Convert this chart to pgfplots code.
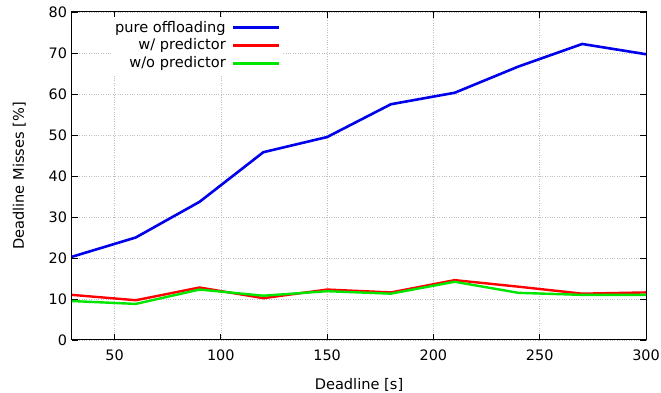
\documentclass[border=0pt]{standalone}
\usepackage{pgfplots}
\pgfplotsset{compat=1.18}
\usepackage{fontspec}
\setmainfont{DejaVu Sans}
\begin{document}
\fontsize{14.6}{17.5}\selectfont
\begin{tikzpicture}
\begin{axis}[
  name=ax,
  scale only axis,
  width=574pt, height=328pt,
  xmin=30, xmax=300, ymin=0, ymax=80,
  xtick={50,100,150,200,250,300},
  ytick={0,10,20,30,40,50,60,70,80},
  tick align=inside,
  major tick length=6pt,
  tick style={black, line width=0.8pt},
  axis line style={line width=1pt},
  grid=major,
  grid style={gray!50, dotted, line width=0.6pt},
  /pgf/number format/assume math mode=true,
  ticklabel style={font=\fontsize{14.4}{17}\selectfont},
  yticklabel style={xshift=0pt},
  xticklabel style={yshift=-5pt},
  label style={font=\fontsize{14.6}{17.5}\selectfont},
  xlabel={Deadline [s]},
  ylabel={Deadline Misses [\%]},
  xlabel style={yshift=-8pt},
  ylabel style={yshift=13pt},
  legend style={at={(rel axis cs:0.366,0.985)}, anchor=north east, draw=none, fill=white,
    font=\fontsize{14.6}{17.5}\selectfont, row sep=0.5pt, inner sep=2pt, column sep=4pt},
  legend cell align=right,
  legend plot pos=right,
  legend image code/.code={\draw[#1, line width=2.6pt] (0cm,0cm) -- (1.6cm,0cm);},
]
\addplot[color={rgb,255:red,0;green,0;blue,235}, line width=2.6pt, line join=round] coordinates {
(30,20.3) (60,25.0) (90,33.7) (120,45.8) (150,49.5) (180,57.5) (210,60.3) (240,66.7) (270,72.2) (300,69.7)};
\addlegendentry{pure offloading}
\addplot[color={rgb,255:red,255;green,0;blue,0}, line width=2.4pt, line join=round] coordinates {
(30,11.0) (60,9.7) (90,12.8) (120,10.2) (150,12.3) (180,11.6) (210,14.6) (240,13.0) (270,11.3) (300,11.6)};
\addlegendentry{w/ predictor}
\addplot[color={rgb,255:red,0;green,230;blue,0}, line width=2.4pt, line join=round] coordinates {
(30,9.5) (60,8.8) (90,12.3) (120,10.8) (150,11.9) (180,11.3) (210,14.2) (240,11.5) (270,11.0) (300,11.0)};
\addlegendentry{w/o predictor}
\end{axis}
\pgfresetboundingbox
\path ([shift={(-72pt,-53pt)}]ax.south west) rectangle ([shift={(15pt,12pt)}]ax.north east);
\end{tikzpicture}
\end{document}
